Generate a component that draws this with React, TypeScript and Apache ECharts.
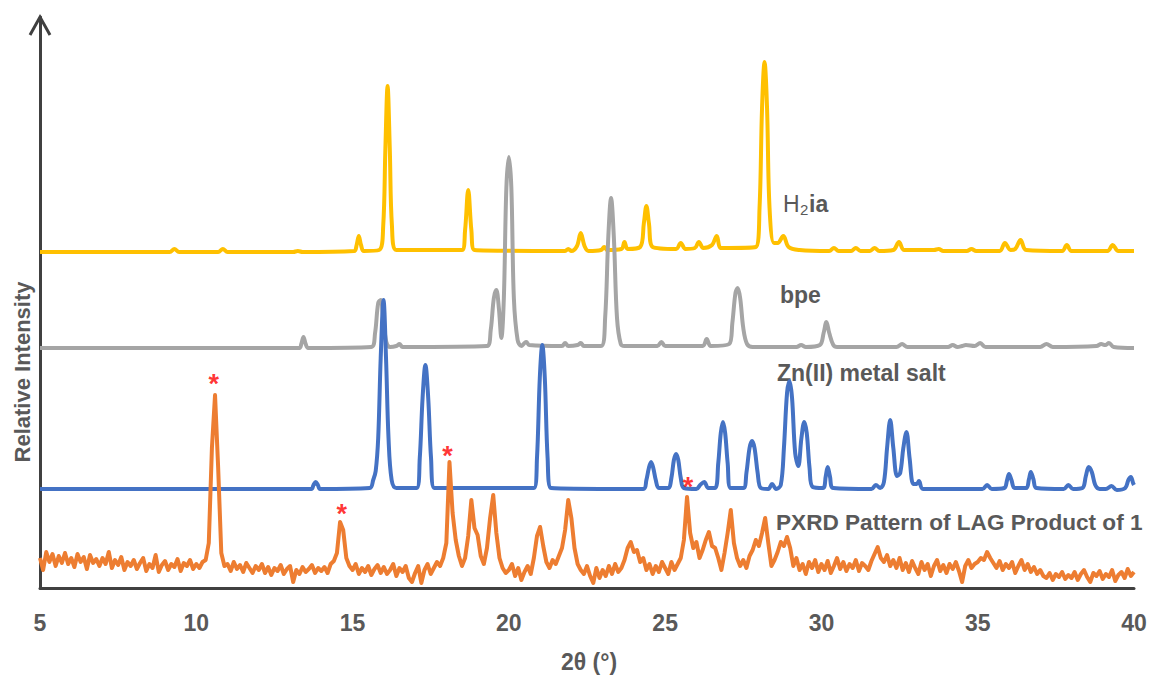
import React, { useEffect, useRef } from "react";
import * as echarts from "echarts";

// 2θ axis ticks
const xMin = 5;
const xMax = 40;
const xInterval = 5;

// H2ia (yellow) – [2θ, intensity]
const h2iaPoints: [number, number][] = [
  [5, 336], [9.15, 336], [9.3, 339], [9.45, 336], [10.7, 336], [10.85, 339], [11.0, 336],
  [13.1, 336], [13.25, 337], [13.4, 336],
  [15.05, 337], [15.13, 343], [15.2, 352], [15.27, 343], [15.36, 337],
  [15.85, 338], [15.98, 362], [16.05, 440], [16.12, 502], [16.19, 440], [16.26, 362], [16.4, 338],
  [18.5, 338], [18.6, 358], [18.7, 398], [18.8, 358], [18.9, 338],
  [21.8, 337], [21.9, 339], [22.0, 337], [22.18, 342], [22.3, 355], [22.42, 342], [22.55, 337],
  [22.95, 338], [23.05, 341], [23.15, 338], [23.6, 339], [23.7, 346], [23.8, 339],
  [24.2, 341], [24.32, 365], [24.4, 382], [24.48, 365], [24.6, 341],
  [25.35, 339], [25.5, 345], [25.65, 339], [25.95, 340], [26.08, 346], [26.22, 340],
  [26.5, 343], [26.65, 352], [26.8, 340],
  [27.9, 341], [28.02, 380], [28.1, 480], [28.18, 526], [28.26, 480], [28.34, 380], [28.48, 345],
  [28.6, 345], [28.78, 352], [28.95, 341], [29.3, 338],
  [30.25, 337], [30.4, 340], [30.55, 337], [30.95, 337], [31.1, 340], [31.25, 337],
  [31.55, 337], [31.7, 340], [31.85, 337], [32.3, 338], [32.48, 346], [32.65, 338],
  [33.6, 338], [33.75, 339], [33.9, 337], [34.65, 337], [34.8, 339], [34.95, 337],
  [35.7, 337], [35.87, 345], [36.05, 338], [36.2, 339], [36.37, 348], [36.55, 338],
  [37.7, 337], [37.85, 343], [38.0, 337], [39.15, 337], [39.32, 343], [39.5, 337], [40, 337],
];

// bpe (gray)
const bpePoints: [number, number][] = [
  [5, 240], [13.3, 240], [13.36, 244], [13.43, 251], [13.5, 244], [13.58, 240],
  [15.6, 241], [15.72, 255], [15.82, 285], [15.9, 288], [15.98, 270], [16.08, 246], [16.2, 241],
  [16.4, 242], [16.5, 244], [16.6, 241],
  [19.3, 242], [19.42, 258], [19.52, 290], [19.6, 298], [19.68, 280], [19.76, 250], [19.84, 290],
  [19.92, 400], [20.0, 431], [20.08, 400], [20.16, 290], [20.28, 248], [20.4, 242],
  [20.5, 245], [20.56, 246], [20.65, 243], [21.7, 242], [21.8, 245], [21.9, 242],
  [22.2, 243], [22.3, 245], [22.4, 242],
  [22.95, 242], [23.08, 270], [23.18, 350], [23.27, 390], [23.36, 350], [23.46, 270], [23.58, 244], [23.7, 242],
  [24.75, 242], [24.88, 246], [25.0, 242], [26.2, 242], [26.33, 249], [26.46, 242],
  [27.05, 244], [27.15, 265], [27.25, 295], [27.32, 300], [27.4, 290], [27.5, 260], [27.62, 244], [27.8, 241],
  [29.2, 241], [29.35, 243], [29.5, 241], [29.95, 243], [30.07, 255], [30.16, 266], [30.25, 255],
  [30.38, 243], [30.5, 241], [32.4, 241], [32.58, 244], [32.75, 241],
  [34.05, 241], [34.2, 243], [34.35, 241], [34.5, 242], [34.62, 243], [34.9, 242], [35.08, 245], [35.25, 241],
  [37.0, 241], [37.2, 244], [37.4, 241], [38.8, 242], [38.95, 244], [39.08, 243], [39.2, 245], [39.35, 241], [40, 240],
];

// Zn(II) metal salt (blue)
const znPoints: [number, number][] = [
  [5, 99], [13.68, 99], [13.75, 103], [13.82, 106], [13.89, 103], [13.96, 99],
  [15.55, 100], [15.66, 108], [15.74, 117], [15.82, 150], [15.9, 230], [15.99, 288], [16.07, 230],
  [16.15, 150], [16.25, 108], [16.4, 100],
  [17.05, 100], [17.15, 130], [17.24, 190], [17.33, 223], [17.42, 190], [17.51, 130], [17.62, 100],
  [20.8, 100], [20.9, 130], [20.99, 210], [21.07, 243], [21.15, 210], [21.24, 130], [21.35, 100],
  [24.3, 99], [24.4, 108], [24.48, 120], [24.55, 126], [24.62, 120], [24.7, 108], [24.8, 100],
  [25.1, 100], [25.2, 110], [25.28, 128], [25.35, 134], [25.42, 128], [25.5, 110], [25.6, 100],
  [26.0, 99], [26.12, 103], [26.25, 106], [26.38, 100],
  [26.6, 100], [26.7, 125], [26.78, 155], [26.85, 166], [26.92, 155], [27.0, 125], [27.1, 100],
  [27.5, 100], [27.6, 115], [27.7, 140], [27.78, 147], [27.86, 140], [27.96, 115], [28.06, 100],
  [28.3, 99], [28.42, 104], [28.55, 99],
  [28.7, 103], [28.8, 140], [28.9, 195], [28.98, 207], [29.06, 190], [29.16, 135], [29.26, 122],
  [29.36, 150], [29.45, 166], [29.53, 155], [29.62, 120], [29.72, 101],
  [30.05, 100], [30.14, 112], [30.2, 121], [30.27, 112], [30.38, 100],
  [31.6, 99], [31.74, 103], [31.88, 100], [32.0, 106], [32.1, 140], [32.2, 168], [32.3, 140],
  [32.42, 112], [32.52, 115], [32.62, 140], [32.72, 156], [32.82, 130], [32.94, 104],
  [33.05, 104], [33.12, 107], [33.25, 99],
  [35.15, 99], [35.3, 103], [35.45, 99], [35.85, 100], [35.94, 108], [36.0, 114], [36.08, 108], [36.18, 100],
  [36.55, 100], [36.64, 109], [36.7, 116], [36.78, 109], [36.88, 100],
  [37.75, 99], [37.9, 103], [38.05, 99], [38.35, 100], [38.46, 112], [38.55, 121], [38.65, 116],
  [38.76, 103], [38.9, 99], [39.1, 99], [39.28, 102], [39.45, 98],
  [39.72, 100], [39.82, 108], [39.9, 111], [39.97, 105], [40, 103],
];

// LAG product (orange) – sampled every 0.1° from 5.0 to 40.0
const lagStart = 5;
const lagStep = 0.1;
const lagValues: number[] = [
  30, 18, 36, 26, 34, 22, 32, 25, 35, 24, // 5
  30, 21, 34, 26, 31, 19, 33, 25, 29, 22, // 6
  30, 24, 36, 20, 28, 23, 31, 18, 26, 22, // 7
  28, 19, 25, 30, 17, 24, 20, 33, 16, 23, // 8
  27, 18, 24, 21, 29, 17, 25, 22, 28, 19, // 9
  24, 20, 26, 28, 45, 140, 193, 120, 35, 22, // 10
  24, 17, 26, 19, 23, 16, 25, 20, 15, 22, // 11
  18, 24, 15, 21, 13, 20, 17, 23, 14, 19, // 12
  22, 6, 18, 14, 21, 16, 19, 23, 15, 20, // 13
  17, 21, 15, 24, 27, 35, 66, 58, 30, 22, // 14
  18, 24, 14, 20, 16, 22, 13, 19, 23, 15, // 15
  21, 14, 18, 24, 12, 20, 16, 22, 10, 6, // 16
  15, 22, 5, 18, 24, 14, 20, 26, 22, 30, // 17
  45, 126, 75, 48, 32, 22, 30, 52, 88, 60, // 18
  53, 32, 24, 40, 70, 93, 55, 30, 20, 15, // 19
  18, 24, 12, 20, 8, 16, 22, 14, 30, 52, // 20
  61, 42, 26, 20, 28, 24, 32, 40, 58, 88, // 21
  70, 40, 24, 18, 14, 22, 12, 5, 20, 10, // 22
  18, 12, 22, 14, 24, 16, 20, 28, 40, 46, // 23
  36, 38, 26, 30, 18, 24, 14, 22, 16, 26, // 24
  20, 14, 26, 18, 24, 30, 48, 91, 55, 40, // 25
  46, 30, 38, 48, 56, 42, 40, 30, 18, 35, // 26
  55, 78, 45, 30, 22, 28, 20, 32, 38, 48, // 27
  42, 55, 70, 45, 22, 28, 36, 46, 42, 51, // 28
  40, 22, 30, 18, 24, 14, 26, 20, 28, 16, // 29
  24, 18, 27, 15, 22, 30, 19, 26, 17, 24, // 30
  20, 28, 17, 25, 22, 18, 27, 34, 41, 30, // 31
  26, 33, 22, 28, 20, 30, 18, 25, 16, 27, // 32
  20, 14, 26, 18, 24, 12, 22, 28, 17, 23, // 33
  15, 24, 19, 26, 17, 6, 22, 28, 20, 24, // 34
  26, 30, 28, 36, 30, 25, 20, 27, 18, 24, // 35
  20, 26, 15, 22, 28, 18, 24, 16, 21, 14, // 36
  18, 12, 10, 15, 8, 14, 11, 16, 9, 13, // 37
  10, 16, 8, 14, 18, 11, 6, 15, 12, 17, // 38
  9, 14, 11, 18, 7, 13, 16, 10, 19, 12, // 39
  16, // 40
];

// red asterisks marking LAG peaks
const starPoints: [number, number][] = [
  [10.56, 204],
  [14.65, 74],
  [18.04, 132],
  [25.73, 101],
];

const yMax = 571;
const FONT = "'Liberation Sans', Arial, Helvetica, sans-serif";
const TEXT_GRAY = "#595959";
const AXIS_DARK = "#404040";

export default function App() {
  const ref = useRef<HTMLDivElement>(null);

  useEffect(() => {
    if (!ref.current) return;
    const chart = echarts.init(ref.current, undefined, { renderer: "svg" });

    const lagData = lagValues.map((v, i) => [
      Math.round((lagStart + i * lagStep) * 100) / 100,
      v,
    ]);

    const lineBase = {
      type: "line" as const,
      showSymbol: false,
      symbol: "none",
      smooth: 0.35,
      silent: true,
    };

    const option: any = {
      animation: false,
      backgroundColor: "#ffffff",
      grid: { left: 40, right: 19, top: 17, bottom: 89, containLabel: false },
      xAxis: {
        type: "value",
        min: xMin,
        max: xMax,
        interval: xInterval,
        axisLine: { show: true, onZero: false, lineStyle: { color: AXIS_DARK, width: 3 } },
        axisTick: { show: false },
        splitLine: { show: false },
        axisLabel: {
          color: TEXT_GRAY,
          fontSize: 23,
          fontWeight: "bold",
          fontFamily: FONT,
          margin: 23,
        },
      },
      yAxis: {
        type: "value",
        min: 0,
        max: yMax,
        axisLine: { show: true, onZero: false, lineStyle: { color: AXIS_DARK, width: 3 } },
        axisTick: { show: false },
        axisLabel: { show: false },
        splitLine: { show: false },
      },
      series: [
        { ...lineBase, name: "H2ia", data: h2iaPoints, lineStyle: { color: "#FFC000", width: 4 }, z: 2 },
        { ...lineBase, name: "bpe", data: bpePoints, lineStyle: { color: "#A5A5A5", width: 4 }, z: 3 },
        { ...lineBase, name: "Zn(II) metal salt", data: znPoints, lineStyle: { color: "#4472C4", width: 4 }, z: 4 },
        {
          ...lineBase,
          smooth: false,
          name: "PXRD Pattern of LAG Product of 1",
          data: lagData,
          lineStyle: { color: "#ED7D31", width: 4, join: "round" },
          z: 5,
        },
        {
          type: "scatter",
          name: "marks",
          data: starPoints,
          symbolSize: 1,
          itemStyle: { color: "rgba(0,0,0,0)" },
          silent: true,
          z: 6,
          label: {
            show: true,
            position: "inside",
            formatter: "*",
            color: "#FF0000",
            fontSize: 27,
            fontWeight: "bold",
            fontFamily: FONT,
          },
        },
      ],
      graphic: [
        {
          type: "polyline",
          shape: { points: [[30, 35], [40, 17], [50, 35]] },
          style: { stroke: AXIS_DARK, lineWidth: 3, fill: "none" },
          z: 10,
        },
        {
          type: "text",
          x: 783,
          y: 204,
          style: { text: "H", font: `23px ${FONT}`, fill: TEXT_GRAY, align: "left", verticalAlign: "middle" },
        },
        {
          type: "text",
          x: 800,
          y: 209,
          style: { text: "2", font: `15px ${FONT}`, fill: TEXT_GRAY, align: "left", verticalAlign: "middle" },
        },
        {
          type: "text",
          x: 809,
          y: 204,
          style: { text: "ia", font: `bold 23px ${FONT}`, fill: TEXT_GRAY, align: "left", verticalAlign: "middle" },
        },
        {
          type: "text",
          x: 780,
          y: 295,
          style: { text: "bpe", font: `bold 23px ${FONT}`, fill: TEXT_GRAY, align: "left", verticalAlign: "middle" },
        },
        {
          type: "text",
          x: 777,
          y: 373,
          style: { text: "Zn(II) metal salt", font: `bold 23px ${FONT}`, fill: TEXT_GRAY, align: "left", verticalAlign: "middle" },
        },
        {
          type: "text",
          x: 776,
          y: 522,
          style: { text: "PXRD Pattern of LAG Product of 1", font: `bold 22.6px ${FONT}`, fill: TEXT_GRAY, align: "left", verticalAlign: "middle" },
        },
        {
          type: "text",
          x: 589,
          y: 662,
          style: { text: "2θ (°)", font: `bold 23px ${FONT}`, fill: TEXT_GRAY, align: "center", verticalAlign: "middle" },
        },
        {
          type: "text",
          x: 22,
          y: 372,
          rotation: Math.PI / 2,
          style: { text: "Relative Intensity", font: `bold 22px ${FONT}`, fill: TEXT_GRAY, align: "center", verticalAlign: "middle" },
        },
      ],
    };

    chart.setOption(option);
    return () => chart.dispose();
  }, []);

  return (
    <div
      ref={ref}
      style={{ position: "fixed", left: 0, top: 0, width: 1153, height: 677, background: "#fff" }}
    />
  );
}
